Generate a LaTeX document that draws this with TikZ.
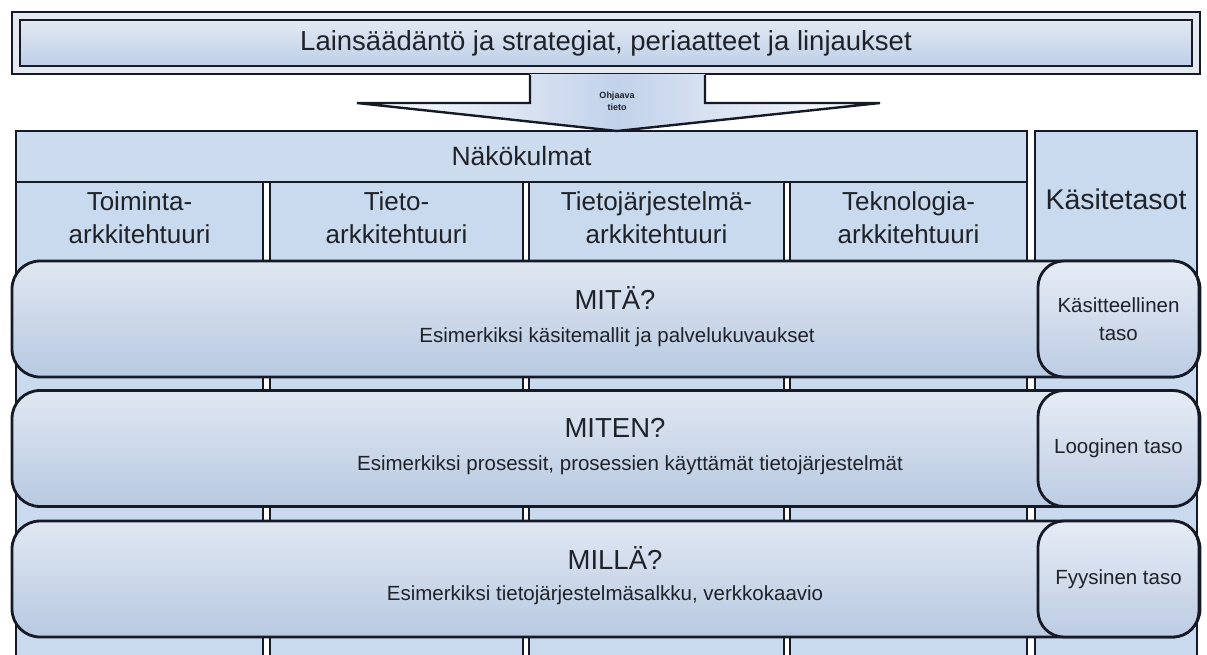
\documentclass[tikz,border=0pt]{standalone}
\usepackage{fontspec}
\setmainfont{Liberation Sans}
\usetikzlibrary{calc}

\definecolor{ink}{HTML}{161A26}
\definecolor{txt}{HTML}{1F2228}
\definecolor{rimfill}{HTML}{E4E9F1}
\definecolor{bartop}{HTML}{E1E8F2}
\definecolor{barbot}{HTML}{BFCFE7}
\definecolor{headfill}{HTML}{CDDBEF}
\definecolor{colfill}{HTML}{C9D9EE}
\definecolor{bandtop}{HTML}{E0E7F2}
\definecolor{bandbot}{HTML}{B8C9E1}
\definecolor{tagtop}{HTML}{E6ECF5}
\definecolor{tagbot}{HTML}{BDCCE3}
\definecolor{arrowmid}{HTML}{C2D2EA}

\newcommand{\fs}[2]{\fontsize{#1}{#2}\selectfont}

\begin{document}
\begin{tikzpicture}[x=1pt,y=-1pt,
  box/.style={draw=ink, line width=2.8pt, inner sep=0pt, outer sep=0pt},
  label/.style={text=txt, inner sep=0pt, align=center},
  band/.style={box, rounded corners=28pt, top color=bandtop, bottom color=bandbot,
               minimum width=1188pt, minimum height=116pt},
  tag/.style={box, rounded corners=26pt, top color=tagtop, bottom color=tagbot,
              minimum width=161pt, minimum height=116pt, label, font=\fs{20.5}{28}},
  column/.style={box, fill=colfill, minimum height=488pt},
  colhead/.style={label, font=\fs{26}{33}},
  bandtitle/.style={label, font=\fs{27.5}{30}},
  bandtext/.style={label, font=\fs{20.5}{24}}
]
\useasboundingbox (0,0) rectangle (1207,654);
\clip (0,0) rectangle (1207,654);
\fill[white] (0,0) rectangle (1207,654);

% legislation bar (double frame)
\node[box, fill=rimfill, minimum width=1188pt, minimum height=62pt] (rim) at (606,43) {};
\node[box, top color=bartop, bottom color=barbot, minimum width=1172pt, minimum height=46pt,
      label, font=\fs{27.5}{30}] (law) at (606,43) {Lainsäädäntö ja strategiat, periaatteet ja linjaukset};

% columns of the viewpoints, running down behind the level bands
\node[column, minimum width=247pt, anchor=north] (c1) at (139.5,182) {};
\node[column, minimum width=253pt, anchor=north] (c2) at (396.5,182) {};
\node[column, minimum width=255pt, anchor=north] (c3) at (656.5,182) {};
\node[column, minimum width=237pt, anchor=north] (c4) at (908.5,182) {};
\node[colhead] (h1) at ($(c1.north)+(0,36)$) {Toiminta-\\arkkitehtuuri};
\node[colhead] (h2) at ($(c2.north)+(0,36)$) {Tieto-\\arkkitehtuuri};
\node[colhead] (h3) at ($(c3.north)+(0,36)$) {Tietojärjestelmä-\\arkkitehtuuri};
\node[colhead] (h4) at ($(c4.north)+(0,36)$) {Teknologia-\\arkkitehtuuri};

% header spanning the four columns
\node[box, fill=headfill, minimum width=1011pt, minimum height=51pt,
      label, font=\fs{26.5}{30}] (views) at (521.5,156.5) {Näkökulmat};

% concept level column
\node[box, fill=colfill, minimum width=162pt, minimum height=540pt, anchor=north] (levels) at (1116,131) {};
\node[label, font=\fs{28.5}{30}] (levelshead) at (1116,199) {Käsitetasot};

% guiding information arrow
\fill[left color=white, right color=white, middle color=arrowmid]
  (530,74) -- (530,103) -- (357,103) -- (617,131) -- (880,103) -- (705,103) -- (705,74) -- cycle;
\draw[ink, line width=2.4pt, line join=miter]
  (530,75) -- (530,103) -- (357,103) -- (617,131) -- (880,103) -- (705,103) -- (705,75);
\node[label, font=\bfseries\fs{9}{12}] (guide) at (617,101) {Ohjaava\\tieto};

% level bands
\node[band] (what) at (606,319) {};
\node[bandtitle] (whatT) at (615,298) {MITÄ?};
\node[bandtext] (whatX) at (617,337) {Esimerkiksi käsitemallit ja palvelukuvaukset};
\node[tag] (conc) at (1118.5,319) {Käsitteellinen\\taso};

\node[band] (how) at (606,448.5) {};
\node[bandtitle] (howT) at (615,428) {MITEN?};
\node[bandtext] (howX) at (630,465) {Esimerkiksi prosessit, prosessien käyttämät tietojärjestelmät};
\node[tag] (logic) at (1118.5,448.5) {Looginen taso};

\node[band] (with) at (606,579) {};
\node[bandtitle] (withT) at (615,558) {MILLÄ?};
\node[bandtext] (withX) at (605,595) {Esimerkiksi tietojärjestelmäsalkku, verkkokaavio};
\node[tag] (phys) at (1118.5,579) {Fyysinen taso};
\end{tikzpicture}
\end{document}
